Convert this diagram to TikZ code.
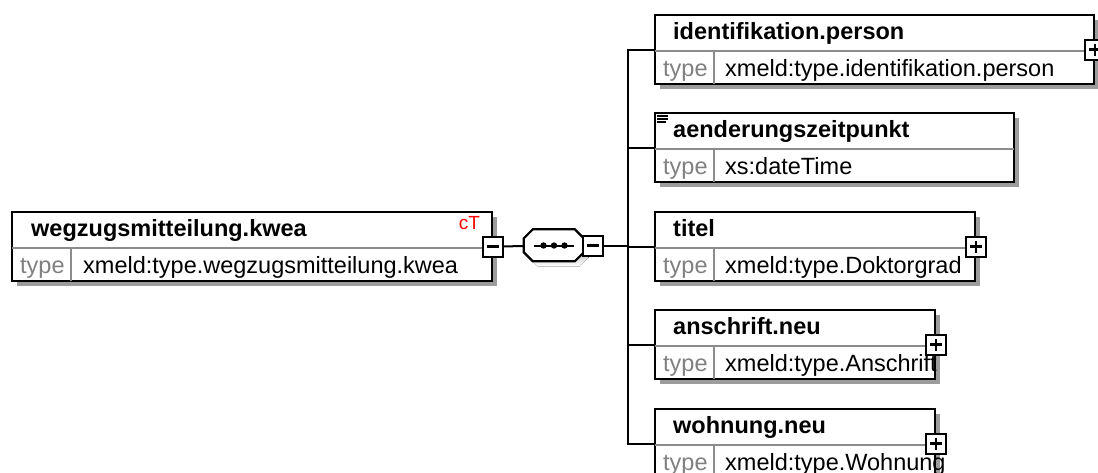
\documentclass[tikz,border=0pt]{standalone}
\usepackage{fontspec}
\setmainfont{Liberation Sans}
\usetikzlibrary{calc,shadows}
\definecolor{cellrule}{HTML}{8C8C8C}
\definecolor{typegray}{HTML}{808080}
\definecolor{shade}{HTML}{9C9C9C}
\definecolor{ctred}{HTML}{FF0000}

\begin{document}
\begin{tikzpicture}[x=1pt, y=-1pt, every node/.style={font=\fontsize{23.5}{28}\selectfont, inner sep=0pt}]
  \tikzset{elem/.style={draw, fill=white, line width=2.2pt, minimum height=69pt, anchor=north west,
                        drop shadow={shadow xshift=5pt, shadow yshift=-5pt, fill=shade, opacity=1}},
           sepline/.style={draw=cellrule, line width=2pt},
           hdr/.style={anchor=base west, font=\fontsize{23.5}{28}\selectfont\bfseries},
           typ/.style={anchor=base west, text=typegray},
           val/.style={anchor=base west},
           conn/.style={line width=2pt},
           pmbox/.style={draw, fill=white, line width=2pt, minimum size=20pt},
           minusbox/.style={pmbox, path picture={\draw[line width=2.4pt]
               ([xshift=-6pt]path picture bounding box.center) -- ([xshift=6pt]path picture bounding box.center);}},
           plusbox/.style={pmbox, path picture={\draw[line width=2.4pt]
               ([xshift=-6pt]path picture bounding box.center) -- ([xshift=6pt]path picture bounding box.center)
               ([yshift=-6pt]path picture bounding box.center) -- ([yshift=6pt]path picture bounding box.center);}},
           seqbox/.style={minimum width=60pt, minimum height=32pt}}
  \useasboundingbox (0,0) rectangle (1098,472);
  \clip (0,0) rectangle (1098,472);

  % element boxes
  \node[elem, minimum width=480pt] (kwea) at (11,211) {};
  \node[elem, minimum width=439pt] (ident) at (654,14) {};
  \node[elem, minimum width=359pt] (aender) at (654,112) {};
  \node[elem, minimum width=320pt] (titel) at (654,211) {};
  \node[elem, minimum width=280pt] (anschr) at (654,309) {};
  \node[elem, minimum width=280pt] (wohn) at (654,408) {};
  \foreach \b in {kwea,ident,aender,titel,anschr,wohn} {
    \draw[sepline] ($(\b.north west)+(1,37)$) -- ($(\b.north east)+(-1,37)$);
    \draw[sepline] ($(\b.north west)+(60,37)$) -- ($(\b.south west)+(60,-1)$);
    \node[typ] (\b-typ) at ($(\b.north west)+(9,62)$) {type};
  }

  % names and types
  \node[hdr] (kwea-h) at ($(kwea.north west)+(20,25)$) {wegzugsmitteilung.kwea};
  \node[val] (kwea-v) at ($(kwea.north west)+(72,62)$) {xmeld:type.wegzugsmitteilung.kwea};
  \node[anchor=base east, text=ctred, font=\fontsize{19}{22}\selectfont] (kwea-ct) at ($(kwea.north east)+(-13,18)$) {cT};
  \node[hdr] (ident-h) at ($(ident.north west)+(19,25)$) {identifikation.person};
  \node[val] (ident-v) at ($(ident.north west)+(71,62)$) {xmeld:type.identifikation.person};
  \node[hdr] (aender-h) at ($(aender.north west)+(19,25)$) {aenderungszeitpunkt};
  \node[val] (aender-v) at ($(aender.north west)+(71,62)$) {xs:dateTime};
  \node[hdr] (titel-h) at ($(titel.north west)+(19,25)$) {titel};
  \node[val] (titel-v) at ($(titel.north west)+(71,62)$) {xmeld:type.Doktorgrad};
  \node[hdr] (anschr-h) at ($(anschr.north west)+(19,25)$) {anschrift.neu};
  \node[val] (anschr-v) at ($(anschr.north west)+(71,62)$) {xmeld:type.Anschrift};
  \node[hdr] (wohn-h) at ($(wohn.north west)+(19,25)$) {wohnung.neu};
  \node[val] (wohn-v) at ($(wohn.north west)+(71,62)$) {xmeld:type.Wohnung};
  % documentation mark
  \foreach \dy/\len in {4/11,7/11,10/9}
    \draw[line width=1.4pt] ($(aender.north west)+(3,\dy)$) -- ++(\len,0);

  % sequence compositor
  \node[minusbox] (kweam) at (kwea.east) {};
  \node[seqbox] (seq) at (554,245.5) {};
  \fill[shade] ([shift={(14,5)}]seq.north west) -- ++(42,0) -- ++(9,9) -- ++(0,14) -- ++(-9,9)
               -- ++(-42,0) -- ++(-9,-9) -- ++(0,-14) -- cycle;
  \draw[fill=white, line width=2.2pt] ([xshift=9pt]seq.north west) -- ++(42,0) -- ++(9,9) -- ++(0,14) -- ++(-9,9)
               -- ++(-42,0) -- ++(-9,-9) -- ++(0,-14) -- cycle;
  \draw[conn] ($(seq.center)+(-20,0)$) -- ($(seq.center)+(20,0)$);
  \foreach \dx in {-10.5,0,10.5}
    \fill ($(seq.center)+(\dx,0)$) circle (3.2pt);
  \node[minusbox, anchor=west] (seqm) at ([xshift=-2pt]seq.east) {};
  \coordinate (bus) at (628,245.5);
  \draw[conn] (kweam) -- (seq);
  \draw[conn] (seqm) -- (bus);
  \foreach \c in {ident,aender,titel,anschr,wohn}
    \draw[conn] (bus) |- (\c.west);

  % expand marks
  \node[plusbox] (identp) at (ident.east) {};
  \node[plusbox] (titelp) at (titel.east) {};
  \node[plusbox] (anschrp) at (anschr.east) {};
  \node[plusbox] (wohnp) at (wohn.east) {};
\end{tikzpicture}
\end{document}
